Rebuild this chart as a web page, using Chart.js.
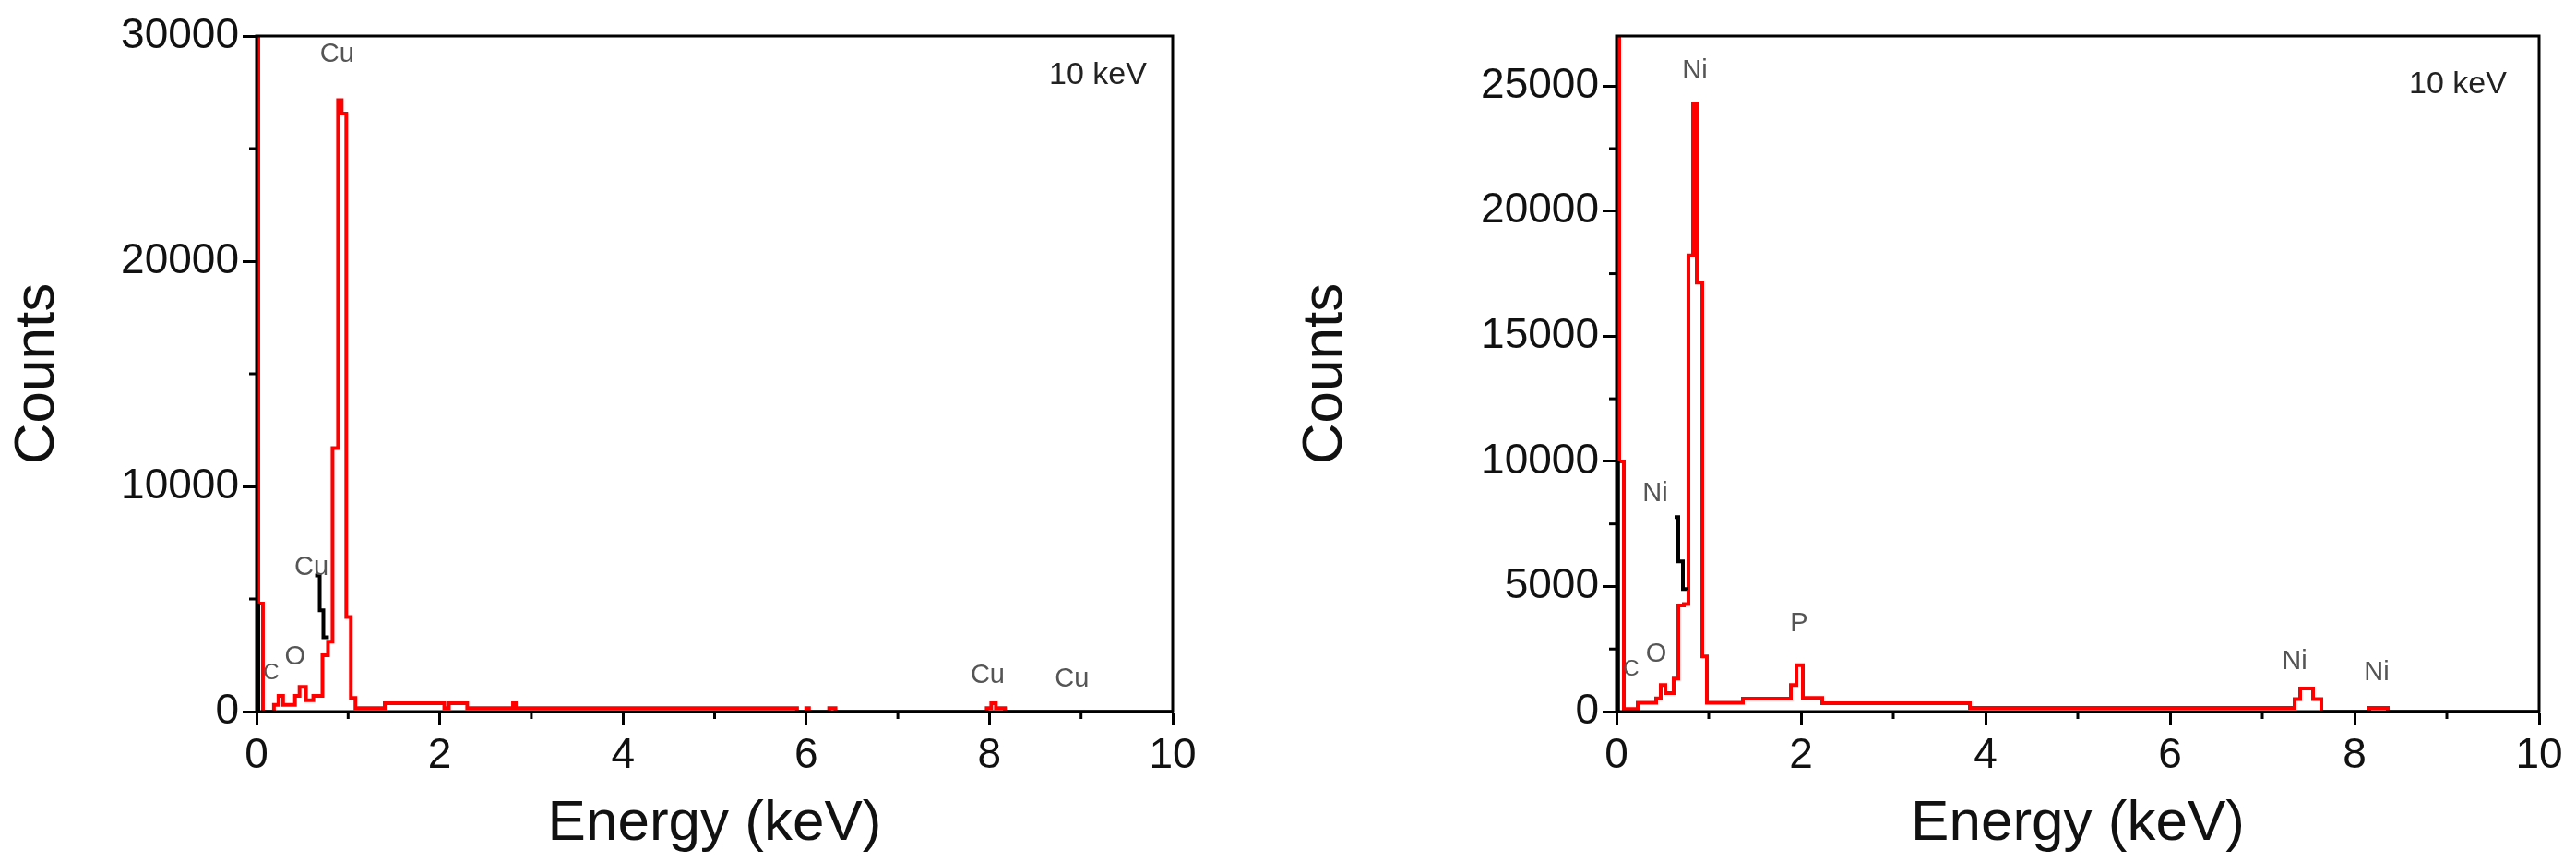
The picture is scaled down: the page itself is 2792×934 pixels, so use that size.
<!DOCTYPE html>
<html>
<head>
<meta charset="utf-8">
<script src="https://cdn.jsdelivr.net/npm/chart.js@4"></script>
<style>
  body { margin: 0; background: #fff; }
  .wrap { position: absolute; top: 0; width: 1396px; height: 934px; }
</style>
</head>
<body>
<div class="wrap" style="left:0"><canvas id="cuChart"></canvas></div>
<div class="wrap" style="left:1396px"><canvas id="niChart"></canvas></div>
<script>
// Cu sample spectrum (stepped: value holds until next energy)
const cuEnergy = [0, 0.02, 0.07, 0.19, 0.24, 0.29, 0.42, 0.47, 0.54, 0.62, 0.72, 0.78, 0.83, 0.89, 0.93, 0.98, 1.03, 1.08, 1.4, 2.05, 2.1, 2.3, 2.8, 2.83, 5.9, 6.0, 6.03, 6.25, 6.32, 7.97, 8.02, 8.07, 8.17, 10];
const cuCounts = [40000, 4800, 0, 300, 700, 300, 700, 1100, 500, 700, 2500, 3100, 11700, 27150, 26560, 4200, 600, 150, 370, 150, 370, 150, 370, 150, 0, 150, 0, 150, 0, 150, 370, 150, 0, 0];
// Ni-P sample spectrum
const niEnergy = [0, 0.03, 0.08, 0.13, 0.23, 0.43, 0.48, 0.53, 0.62, 0.67, 0.73, 0.78, 0.83, 0.87, 0.93, 0.98, 1.37, 1.89, 1.95, 2.02, 2.23, 3.83, 6.95, 7.35, 7.41, 7.47, 7.55, 7.64, 8.16, 8.36, 10];
const niCounts = [40000, 10000, 100, 100, 350, 530, 1060, 740, 1320, 4240, 4300, 18230, 24300, 17140, 2200, 350, 520, 1060, 1850, 540, 330, 150, 150, 500, 920, 920, 500, 0, 150, 0, 0];

const cuXTicks = [0, 2, 4, 6, 8, 10];
const cuYTicks = [0, 10000, 20000, 30000];
const niYTicks = [0, 5000, 10000, 15000, 20000, 25000];

const cuLabels = [
  { text: "Cu", e: 0.88, c: 29200 }, { text: "Cu", e: 0.6, c: 6400 },
  { text: "C", e: 0.16, c: 1700, small: true }, { text: "O", e: 0.42, c: 2400 },
  { text: "Cu", e: 7.98, c: 1600 }, { text: "Cu", e: 8.9, c: 1450 }
];
const niLabels = [
  { text: "Ni", e: 0.85, c: 25600 }, { text: "Ni", e: 0.42, c: 8700 },
  { text: "C", e: 0.16, c: 1700, small: true }, { text: "O", e: 0.43, c: 2300 },
  { text: "P", e: 1.98, c: 3500 }, { text: "Ni", e: 7.35, c: 2000 }, { text: "Ni", e: 8.24, c: 1550 }
];

const FONT = "'Liberation Sans', Arial, sans-serif";

const decor = {
  id: "decor",
  afterDraw(chart, args, opts) {
    const { ctx, chartArea: a, scales: { x, y } } = chart;
    ctx.save();
    // minor ticks
    ctx.strokeStyle = "#000";
    ctx.lineWidth = 3;
    for (let e = 1; e < 10; e += 2) {
      const px = x.getPixelForValue(e);
      ctx.beginPath(); ctx.moveTo(px, a.bottom); ctx.lineTo(px, a.bottom + 8); ctx.stroke();
    }
    for (let v = opts.minor; v < y.max; v += opts.minor * 2) {
      const py = y.getPixelForValue(v);
      ctx.beginPath(); ctx.moveTo(a.left, py); ctx.lineTo(a.left - 8, py); ctx.stroke();
    }
    // frame
    ctx.strokeRect(a.left, a.top, a.right - a.left, a.bottom - a.top);
    // peak labels
    ctx.fillStyle = "#555";
    ctx.textAlign = "center";
    ctx.textBaseline = "middle";
    opts.labels.forEach(l => {
      ctx.font = (l.small ? "24px " : "29px ") + FONT;
      ctx.fillText(l.text, x.getPixelForValue(l.e), y.getPixelForValue(l.c));
    });
    ctx.fillStyle = "#222";
    ctx.font = "34px " + FONT;
    ctx.fillText("10 keV", opts.kev[0], opts.kev[1]);
    ctx.restore();
  }
};

function makeChart(id, energy, counts, black, arrow, yMax, yTicks, minor, labels, pad, kev) {
  return new Chart(document.getElementById(id), {
    type: "line",
    data: {
      datasets: [
        { data: black, borderColor: "#000", borderWidth: 6, pointRadius: 0, order: 0 },
        { data: arrow, borderColor: "#000", borderWidth: 4, pointRadius: 0, stepped: "before", order: 0 },
        { data: energy.map((e, i) => ({ x: e, y: counts[i] })), borderColor: "#ff0000", borderWidth: 4, pointRadius: 0, stepped: "before", order: 1 }
      ]
    },
    options: {
      responsive: false,
      animation: false,
      events: [],
      layout: { padding: { top: 39, right: pad.right, left: 0, bottom: 0 } },
      plugins: { legend: { display: false }, tooltip: { enabled: false }, decor: { minor, labels, kev } },
      scales: {
        x: {
          type: "linear", min: 0, max: 10,
          afterBuildTicks: s => { s.ticks = cuXTicks.map(v => ({ value: v })); },
          afterFit: s => { s.height = 163; },
          grid: { drawOnChartArea: false, tickLength: 15, tickWidth: 3, tickColor: "#000" },
          border: { color: "#000", width: 3 },
          ticks: { color: "#111", font: { family: FONT, size: 46 }, padding: 6 },
          title: { display: true, text: "Energy (keV)", color: "#111", font: { family: FONT, size: 62 }, padding: { top: 0 } }
        },
        y: {
          type: "linear", min: 0, max: yMax,
          afterBuildTicks: s => { s.ticks = yTicks.map(v => ({ value: v })); },
          afterFit: s => { s.width = pad.left; },
          grid: { drawOnChartArea: false, tickLength: 15, tickWidth: 3, tickColor: "#000" },
          border: { color: "#000", width: 3 },
          ticks: { color: "#111", font: { family: FONT, size: 46 }, padding: 4, callback: v => String(v) },
          title: { display: true, text: "Counts", color: "#111", font: { family: FONT, size: 62 }, padding: { bottom: 0 } }
        }
      }
    },
    plugins: [decor]
  });
}

for (const id of ["cuChart", "niChart"]) {
  const c = document.getElementById(id);
  c.width = 1396; c.height = 934;
}

makeChart("cuChart", cuEnergy, cuCounts,
  [{ x: 0.01, y: 0 }, { x: 0.01, y: 4800 }],
  [{ x: 0.64, y: 6050 }, { x: 0.69, y: 4500 }, { x: 0.73, y: 3300 }, { x: 0.77, y: 3220 }],
  30000, cuYTicks, 5000, cuLabels, { left: 278, right: 125 }, [1190, 82]);

makeChart("niChart", niEnergy, niCounts,
  [{ x: 0.008, y: 0 }, { x: 0.008, y: 10000 }],
  [{ x: 0.63, y: 7770 }, { x: 0.67, y: 6000 }, { x: 0.72, y: 4900 }, { x: 0.76, y: 4860 }],
  27000, niYTicks, 2500, niLabels, { left: 356, right: 40 }, [1268, 92]);
</script>
</body>
</html>
